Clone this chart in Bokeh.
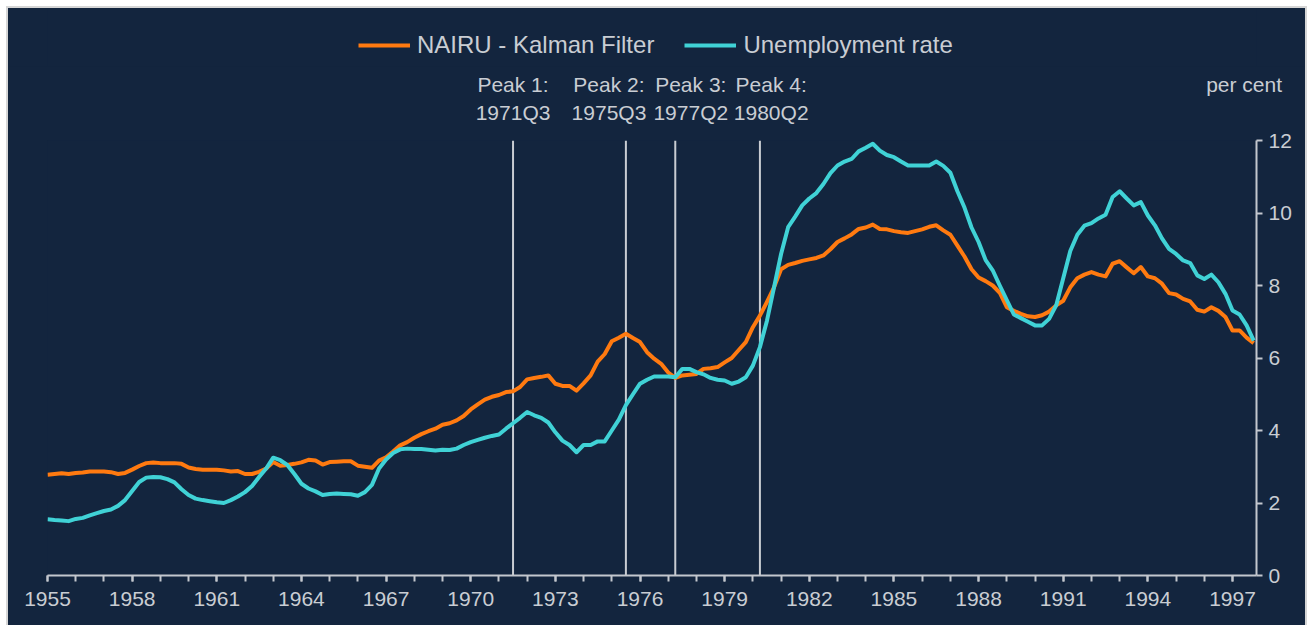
from bokeh.plotting import figure
from bokeh.models import (Range1d, FixedTicker, Legend, LegendItem, LinearAxis, Spacer)
from bokeh.layouts import column, row
from bokeh.embed import file_html
from bokeh.resources import INLINE

# ---------------- data (quarterly, 1955Q1 .. 1997Q4) ----------------
years = list(range(1955, 1998))

nairu = [
    2.78, 2.80, 2.82, 2.80,   # 1955
    2.83, 2.84, 2.87, 2.87,   # 1956
    2.87, 2.85, 2.80, 2.83,   # 1957
    2.92, 3.02, 3.10, 3.12,   # 1958
    3.10, 3.10, 3.10, 3.08,   # 1959
    2.98, 2.94, 2.92, 2.92,   # 1960
    2.92, 2.90, 2.87, 2.88,   # 1961
    2.80, 2.80, 2.86, 2.95,   # 1962
    3.13, 3.03, 3.05, 3.08,   # 1963
    3.12, 3.19, 3.17, 3.06,   # 1964
    3.13, 3.14, 3.15, 3.15,   # 1965
    3.03, 3.00, 2.97, 3.17,   # 1966
    3.26, 3.42, 3.59, 3.68,   # 1967
    3.80, 3.90, 3.98, 4.05,   # 1968
    4.16, 4.20, 4.28, 4.40,   # 1969
    4.58, 4.72, 4.85, 4.93,   # 1970
    4.98, 5.06, 5.08, 5.20,   # 1971
    5.41, 5.45, 5.48, 5.52,   # 1972
    5.29, 5.23, 5.23, 5.10,   # 1973
    5.30, 5.52, 5.90, 6.11,   # 1974
    6.46, 6.56, 6.67, 6.55,   # 1975
    6.44, 6.16, 5.98, 5.84,   # 1976
    5.60, 5.45, 5.52, 5.54,   # 1977
    5.56, 5.70, 5.72, 5.75,   # 1978
    5.88, 6.00, 6.22, 6.44,   # 1979
    6.85, 7.17, 7.55, 7.95,   # 1980
    8.45, 8.57, 8.62, 8.68,   # 1981
    8.72, 8.76, 8.83, 9.00,   # 1982
    9.20, 9.30, 9.41, 9.56,   # 1983
    9.60, 9.68, 9.56, 9.55,   # 1984
    9.50, 9.47, 9.45, 9.50,   # 1985
    9.55, 9.62, 9.66, 9.52,   # 1986
    9.40, 9.10, 8.80, 8.45,   # 1987
    8.22, 8.12, 8.00, 7.80,   # 1988
    7.40, 7.30, 7.22, 7.15,   # 1989
    7.13, 7.18, 7.28, 7.45,   # 1990
    7.58, 7.95, 8.20, 8.30,   # 1991
    8.37, 8.30, 8.25, 8.60,   # 1992
    8.67, 8.50, 8.34, 8.51,   # 1993
    8.25, 8.20, 8.05, 7.79,   # 1994
    7.75, 7.63, 7.56, 7.33,   # 1995
    7.28, 7.40, 7.30, 7.13,   # 1996
    6.76, 6.76, 6.56, 6.41,   # 1997
]

unemployment = [
    1.55, 1.53, 1.52, 1.50,   # 1955
    1.56, 1.59, 1.66, 1.72,   # 1956
    1.78, 1.82, 1.92, 2.08,   # 1957
    2.33, 2.58, 2.70, 2.72,   # 1958
    2.71, 2.66, 2.57, 2.38,   # 1959
    2.22, 2.12, 2.08, 2.05,   # 1960
    2.02, 2.00, 2.08, 2.18,   # 1961
    2.30, 2.47, 2.72, 2.95,   # 1962
    3.25, 3.18, 3.05, 2.80,   # 1963
    2.53, 2.40, 2.32, 2.22,   # 1964
    2.25, 2.26, 2.25, 2.24,   # 1965
    2.20, 2.30, 2.50, 2.95,   # 1966
    3.20, 3.38, 3.48, 3.50,   # 1967
    3.49, 3.49, 3.47, 3.45,   # 1968
    3.47, 3.46, 3.50, 3.60,   # 1969
    3.68, 3.74, 3.80, 3.85,   # 1970
    3.89, 4.05, 4.20, 4.35,   # 1971
    4.51, 4.42, 4.35, 4.22,   # 1972
    3.95, 3.72, 3.60, 3.40,   # 1973
    3.60, 3.60, 3.70, 3.70,   # 1974
    4.00, 4.30, 4.70, 5.00,   # 1975
    5.29, 5.40, 5.49, 5.49,   # 1976
    5.49, 5.47, 5.70, 5.70,   # 1977
    5.61, 5.55, 5.45, 5.40,   # 1978
    5.38, 5.29, 5.35, 5.47,   # 1979
    5.79, 6.30, 7.03, 7.95,   # 1980
    8.87, 9.61, 9.90, 10.21,  # 1981
    10.40, 10.55, 10.80, 11.10,  # 1982
    11.31, 11.42, 11.49, 11.70,  # 1983
    11.80, 11.91, 11.72, 11.60,  # 1984
    11.54, 11.42, 11.31, 11.31,  # 1985
    11.31, 11.31, 11.42, 11.30,  # 1986
    11.11, 10.60, 10.15, 9.60,   # 1987
    9.20, 8.70, 8.42, 8.00,      # 1988
    7.60, 7.20, 7.10, 7.00,      # 1989
    6.90, 6.90, 7.08, 7.45,      # 1990
    8.20, 8.95, 9.40, 9.65,      # 1991
    9.72, 9.85, 9.95, 10.44,     # 1992
    10.60, 10.40, 10.21, 10.30,  # 1993
    9.93, 9.66, 9.30, 9.01,      # 1994
    8.87, 8.69, 8.62, 8.28,      # 1995
    8.18, 8.30, 8.09, 7.77,      # 1996
    7.31, 7.20, 6.90, 6.48,      # 1997
]

label_years = list(range(1955, 1998, 3))
y_ticks = [0, 2, 4, 6, 8, 10, 12]

peak_names = ["Peak 1:", "Peak 2:", "Peak 3:", "Peak 4:"]
peak_quarters = ["1971Q3", "1975Q3", "1977Q2", "1980Q2"]

series_names = ["NAIRU - Kalman Filter", "Unemployment rate"]
unit_label = "per cent"

# ---------------- derived positions ----------------
t = [y + q / 4 for y in years for q in range(4)]
peak_t = [int(s[:4]) + (int(s[-1]) - 1) / 4 for s in peak_quarters]

# label anchors (layout only): small shifts so the texts do not collide
label_shift = [0.0, -0.6, 0.55, 0.4]
anchor_t = [peak_t[i] + label_shift[i] for i in range(len(peak_t))]
unit_anchor = 1997.41

# ---------------- styling ----------------
BG = "#13253E"
TXT = "#C9CDD3"
AXIS = "#C3C7CE"
ORANGE = "#FF7A10"
CYAN = "#40D2D6"
FONT = "Liberation Sans"

W = 1297
TOP_H = 58          # strip holding the legend
MAIN_H = 617 - TOP_H

# ---- legend strip (its own ranges keep the series out of view; only the legend shows) ----
pt = figure(width=W, height=TOP_H, output_backend="svg", toolbar_location=None,
            x_range=Range1d(0, 1), y_range=Range1d(0, 1),
            x_axis_location=None, y_axis_location=None, min_border=0)
pt.background_fill_color = BG
pt.border_fill_color = BG
pt.outline_line_color = None
pt.grid.visible = False
pt.styles = {"background-color": BG}
l1 = pt.line(t, nairu, line_color=ORANGE, line_width=4)
l2 = pt.line(t, unemployment, line_color=CYAN, line_width=4)
legend = Legend(items=[LegendItem(label=series_names[0], renderers=[l1]),
                       LegendItem(label=series_names[1], renderers=[l2])],
                orientation="horizontal", location=(311, 7),
                background_fill_alpha=0, border_line_alpha=0,
                label_text_color=TXT, label_text_font=FONT,
                label_text_font_size="24px",
                glyph_width=52, glyph_height=24, label_standoff=7,
                spacing=30, padding=0, margin=0)
pt.add_layout(legend, "center")

# ---- main chart ----
p = figure(width=W, height=MAIN_H, output_backend="svg", toolbar_location=None,
           x_range=Range1d(1955, 1997.85), y_range=Range1d(0, 12),
           y_axis_location="right",
           min_border_left=39, min_border_right=49,
           min_border_top=132 - TOP_H, min_border_bottom=50)
p.background_fill_color = BG
p.border_fill_color = BG
p.outline_line_color = None
p.xgrid.visible = False
p.ygrid.visible = False
p.styles = {"background-color": BG}

xa = p.xaxis[0]
xa.ticker = FixedTicker(ticks=label_years, minor_ticks=years)
xa.axis_line_color = AXIS
xa.axis_line_width = 2
xa.major_tick_line_color = AXIS
xa.minor_tick_line_color = AXIS
xa.major_tick_line_width = 2
xa.minor_tick_line_width = 2
xa.major_tick_in = 0
xa.minor_tick_in = 0
xa.major_tick_out = 6
xa.minor_tick_out = 6
xa.major_label_text_color = TXT
xa.major_label_text_font = FONT
xa.major_label_text_font_size = "21px"
xa.major_label_standoff = 10

ya = p.yaxis[0]
ya.ticker = FixedTicker(ticks=y_ticks)
ya.axis_line_color = AXIS
ya.axis_line_width = 2
ya.major_tick_line_color = AXIS
ya.major_tick_line_width = 2
ya.minor_tick_line_color = None
ya.major_tick_in = 0
ya.major_tick_out = 6
ya.major_label_text_color = TXT
ya.major_label_text_font = FONT
ya.major_label_text_font_size = "21px"
ya.major_label_standoff = 6

# peak vertical lines
p.segment(x0=peak_t, y0=[y_ticks[0]] * len(peak_t), x1=peak_t, y1=[y_ticks[-1]] * len(peak_t),
          line_color="#C8CCD2", line_width=2)

# series
p.line(t, nairu, line_color=ORANGE, line_width=4, line_join="round")
p.line(t, unemployment, line_color=CYAN, line_width=4, line_join="round")

# peak labels + unit label as an axis above the frame
overrides = {anchor_t[i]: peak_names[i] + "\n" + peak_quarters[i] for i in range(len(anchor_t))}
overrides[unit_anchor] = unit_label + "\n "
top_axis = LinearAxis(ticker=FixedTicker(ticks=anchor_t + [unit_anchor], minor_ticks=[]),
                      major_label_overrides=overrides)
top_axis.axis_line_color = None
top_axis.major_tick_line_color = None
top_axis.minor_tick_line_color = None
top_axis.major_tick_out = 0
top_axis.major_tick_in = 0
top_axis.major_label_standoff = 17
top_axis.major_label_text_color = TXT
top_axis.major_label_text_font = FONT
top_axis.major_label_text_font_size = "21px"
p.add_layout(top_axis, "above")

chart = column(pt, p, styles={"outline": "2px solid #D6D6D6", "background-color": BG})
layout = column(Spacer(height=8), row(Spacer(width=8), chart))
open("out.html", "w").write(file_html(layout, INLINE))
